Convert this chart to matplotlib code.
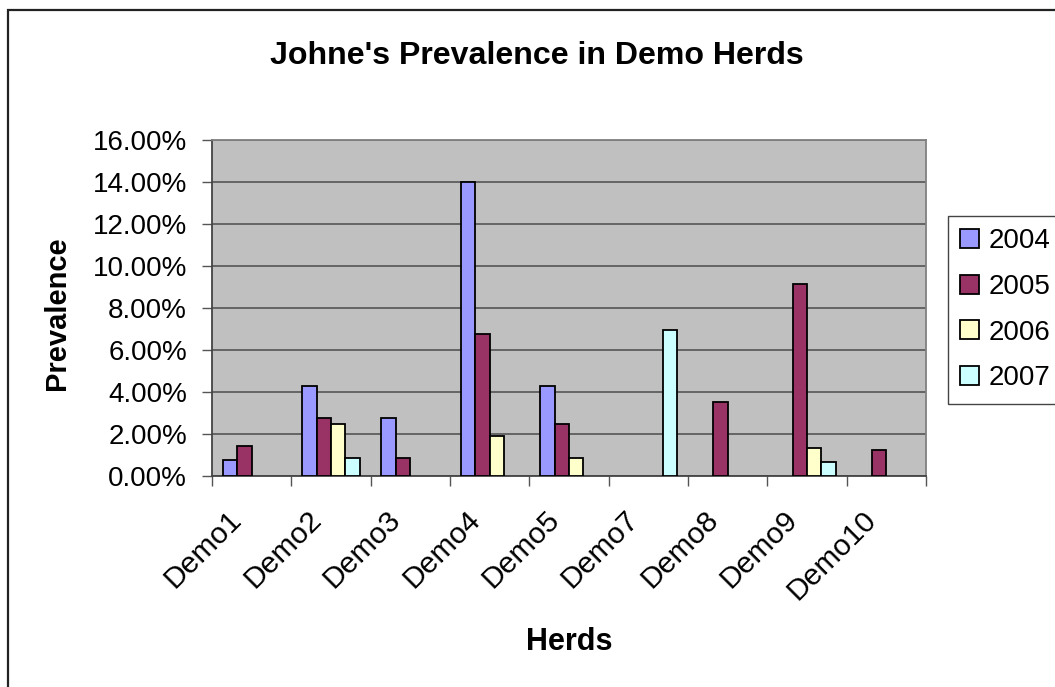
import numpy as np
import matplotlib
matplotlib.use("Agg")
import matplotlib.pyplot as plt
from matplotlib.patches import Rectangle
from matplotlib.ticker import FuncFormatter, FixedLocator
import matplotlib.transforms as mtransforms

plt.rcParams['font.family'] = ['Liberation Sans', 'DejaVu Sans']

herds = ["Demo1", "Demo2", "Demo3", "Demo4", "Demo5", "Demo7", "Demo8", "Demo9", "Demo10"]
years = ["2004", "2005", "2006", "2007"]
prev_2004 = [0.75, 4.29, 2.78, 14.0, 4.29, None, None, None, None]
prev_2005 = [1.43, 2.78, 0.84, 6.76, 2.48, None, 3.51, 9.14, 1.24]
prev_2006 = [None, 2.48, None, 1.90, 0.84, None, None, 1.33, None]
prev_2007 = [None, 0.84, None, None, None, 6.95, None, 0.67, None]
series = [prev_2004, prev_2005, prev_2006, prev_2007]
colors = ["#9999FF", "#993366", "#FFFFCC", "#CCFFFF"]
y_ticks = [0, 2, 4, 6, 8, 10, 12, 14, 16]

W, H = 1055, 687
fig = plt.figure(figsize=(W / 100, H / 100), dpi=100)
fig.patch.set_facecolor("white")

# outer chart border (left and top visible, right/bottom cut off)
fig.patches.append(Rectangle((8 / W, -1), 3, 1 - 10 / H + 1, transform=fig.transFigure,
                             fill=False, edgecolor="#222222", linewidth=1.6, clip_on=False))

left, right, top, bottom = 212, 926, 139.5, 476
ax = fig.add_axes([left / W, 1 - bottom / H, (right - left) / W, (bottom - top) / H])
ax.set_facecolor("#C0C0C0")

n = len(herds)
w = 1 / 5.5
for j, (vals, col, yr) in enumerate(zip(series, colors, years)):
    xs = [i + 0.5 + (j - 1.5) / 5.5 for i, v in enumerate(vals) if v is not None]
    ys = [v for v in vals if v is not None]
    ax.bar(xs, ys, width=w, color=col, edgecolor="black", linewidth=1.3, label=yr, zorder=3)

ax.set_xlim(0, n)
ax.set_ylim(0, 16)
ax.set_yticks(y_ticks)
ax.yaxis.set_major_formatter(FuncFormatter(lambda v, p: f"{v:.2f}%"))
ax.grid(axis="y", color="#555555", linewidth=1.2, zorder=1)
ax.set_axisbelow(True)

ax.xaxis.set_major_locator(FixedLocator(np.arange(0, n + 1)))
ax.xaxis.set_minor_locator(FixedLocator(np.arange(n) + 0.5))
ax.set_xticklabels([], minor=False)
ax.set_xticklabels(herds, minor=True, fontsize=21.5)
ax.tick_params(axis="x", which="major", direction="out", length=7, width=1, color="#555555")
ax.tick_params(axis="x", which="minor", length=0, pad=21)
ax.tick_params(axis="y", direction="out", length=7, width=1, color="#555555", labelsize=20, pad=11)

offset = mtransforms.ScaledTranslation(-24 / 100, 0, fig.dpi_scale_trans)
for lab in ax.get_xticklabels(minor=True):
    lab.set_rotation(45)
    lab.set_ha("right")
    lab.set_va("top")
    lab.set_rotation_mode("anchor")
    lab.set_transform(lab.get_transform() + offset)

for s in ["left", "bottom"]:
    ax.spines[s].set_color("#444444")
    ax.spines[s].set_linewidth(1.3)
for s in ["top", "right"]:
    ax.spines[s].set_color("#808080")
    ax.spines[s].set_linewidth(1.3)

fig.text(537 / W, 1 - 63.5 / H, "Johne's Prevalence in Demo Herds", ha="center", va="baseline",
         fontsize=23.1, fontweight="bold")
fig.text(569.5 / W, 1 - 650 / H, "Herds", ha="center", va="baseline", fontsize=22, fontweight="bold")
fig.text(57 / W, 1 - 313 / H, "Prevalence", ha="center", va="center", rotation=90,
         fontsize=21, fontweight="bold")

leg = fig.legend(loc="upper left", bbox_to_anchor=(947.7 / W, 1 - 215.7 / H), fontsize=20,
                 frameon=True, fancybox=False, edgecolor="#444444", framealpha=1,
                 handlelength=0.67, handleheight=0.67, handletextpad=0.36, borderpad=0.45,
                 labelspacing=0.71, borderaxespad=0)
leg.get_frame().set_linewidth(1.0)

fig.savefig("out.png", dpi=100)
